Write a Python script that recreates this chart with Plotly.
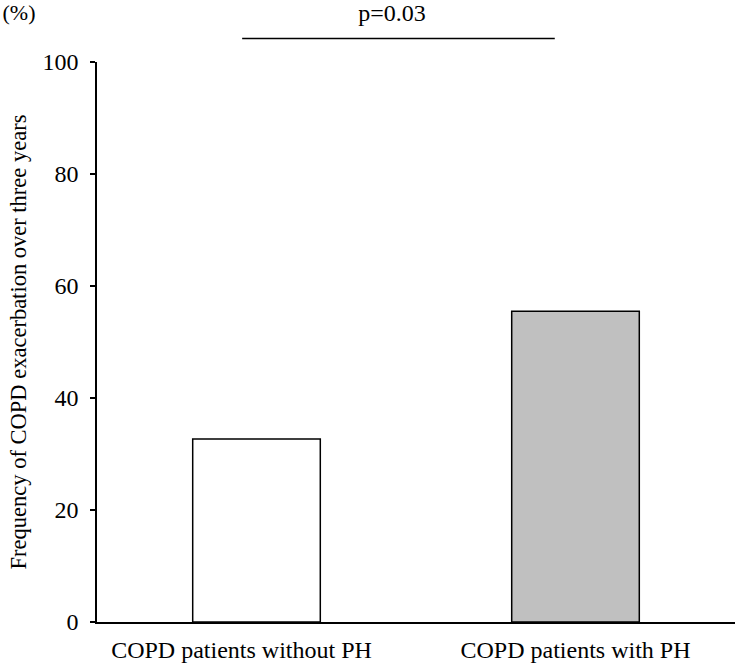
import plotly.graph_objects as go

categories = ["COPD patients without PH", "COPD patients with PH"]
values = [32.7, 55.5]
bar_colors = ["#FFFFFF", "#C0C0C0"]
y_ticks = [0, 20, 40, 60, 80, 100]
p_text = "p=0.03"
y_title = "Frequency of COPD exacerbation over three years"
unit_text = "(%)"

FONT = "'Liberation Serif', 'Times New Roman', 'DejaVu Serif', serif"
W, H = 735, 666

# first label in the reference sits a little left of its bar
tick_text = [categories[0] + "\u00a0" * 5, categories[1]]

fig = go.Figure()
fig.add_trace(go.Bar(
    x=[0, 1],
    y=values,
    width=0.4,
    marker=dict(color=bar_colors, line=dict(color="black", width=1.5)),
    showlegend=False,
))
# empty helper trace so the unit-label axis is drawn
fig.add_trace(go.Scatter(x=[], y=[], xaxis="x2", yaxis="y", showlegend=False))

fig.update_layout(
    width=W, height=H,
    margin=dict(l=0, r=0, t=0, b=0),
    paper_bgcolor="white", plot_bgcolor="white",
    font=dict(family=FONT, size=24, color="black"),
    title=dict(text=p_text, font=dict(family=FONT, size=24, color="black"),
               xref="paper", x=392 / W, xanchor="center",
               yref="container", y=1 - 13 / H, yanchor="middle"),
    xaxis=dict(
        domain=[97 / W, 1.0],
        range=[-0.5, 1.5],
        tickmode="array", tickvals=[0, 1], ticktext=tick_text,
        showline=True, linecolor="black", linewidth=1.5,
        ticks="", showgrid=False, zeroline=False, automargin=False,
        tickfont=dict(family=FONT, size=24),
        ticklabelstandoff=5,
    ),
    yaxis=dict(
        domain=[44 / H, 1 - 62 / H],
        range=[0, 100],
        tickmode="array", tickvals=y_ticks,
        showline=True, linecolor="black", linewidth=1.5,
        ticks="outside", ticklen=5, tickcolor="black", tickwidth=1.5,
        showgrid=False, zeroline=False, automargin=False,
        tickfont=dict(family=FONT, size=24),
        ticklabelstandoff=7,
        title=dict(text=y_title, font=dict(family=FONT, size=22.5), standoff=10),
    ),
    xaxis2=dict(
        domain=[0, 38 / W], anchor="free", position=1.0,
        range=[0, 1], tickmode="array", tickvals=[0.5], ticktext=[unit_text],
        showline=False, showgrid=False, zeroline=False, ticks="",
        automargin=False, fixedrange=True, side="bottom",
        tickfont=dict(family=FONT, size=22),
        ticklabelstandoff=-3,
    ),
)

fig.add_shape(type="line", xref="x", yref="paper",
              x0=-0.045, x1=0.935, y0=1 - 38.5 / H, y1=1 - 38.5 / H,
              line=dict(color="black", width=1.5))

fig.write_html("out.html", config={"displayModeBar": False},
               post_script="document.body.style.margin='0';")
